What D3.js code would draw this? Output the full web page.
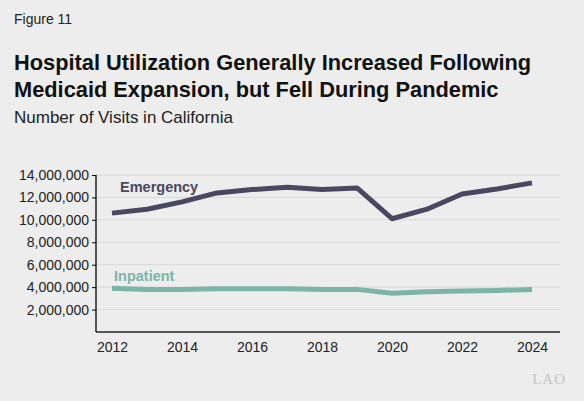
<!DOCTYPE html>
<html><head><meta charset="utf-8">
<script src="https://cdn.jsdelivr.net/npm/d3@7"></script>
<style>body{margin:0;background:#ecedec;font-family:"Liberation Sans",Arial,sans-serif}</style>
</head><body><div id="plot"></div>
<script>
var years = [2012,2013,2014,2015,2016,2017,2018,2019,2020,2021,2022,2023,2024];
var emergency = [10600000,10950000,11600000,12400000,12700000,12900000,12700000,12850000,10100000,10950000,12300000,12750000,13300000];
var inpatient = [3900000,3800000,3800000,3850000,3850000,3850000,3800000,3800000,3450000,3600000,3650000,3700000,3800000];
var yTicks = [2000000,4000000,6000000,8000000,10000000,12000000,14000000];
var xTicks = [2012,2014,2016,2018,2020,2022,2024];

const w = 584, h = 401;
const svg = d3.select("#plot").append("svg").attr("width", w).attr("height", h);

svg.append("text").attr("x", 14).attr("y", 24).attr("font-size", 14).attr("fill", "#222").text("Figure 11");
svg.append("text").attr("x", 14).attr("y", 70).attr("font-size", 21.8).attr("font-weight", "bold").attr("fill", "#111")
  .text("Hospital Utilization Generally Increased Following");
svg.append("text").attr("x", 14).attr("y", 97).attr("font-size", 21.8).attr("font-weight", "bold").attr("fill", "#111")
  .text("Medicaid Expansion, but Fell During Pandemic");
svg.append("text").attr("x", 14).attr("y", 123).attr("font-size", 17).attr("fill", "#222").text("Number of Visits in California");

const x = d3.scaleLinear().domain([2012, 2024]).range([112, 532]);
const y = d3.scaleLinear().domain([0, 14000000]).range([332, 175]);

svg.append("g").selectAll("line").data(yTicks).enter().append("line")
  .attr("x1", 96).attr("x2", 560).attr("y1", d => y(d)).attr("y2", d => y(d))
  .attr("stroke", "#d8d9d8").attr("stroke-width", 1);

const yAxis = svg.append("g").attr("transform", "translate(96,0)")
  .call(d3.axisLeft(y).tickValues(yTicks).tickSize(4).tickFormat(d3.format(",")));
const xAxis = svg.append("g").attr("transform", "translate(0,332)")
  .call(d3.axisBottom(x).tickValues(xTicks).tickSize(0).tickPadding(10).tickFormat(d => d));
xAxis.select(".domain").attr("d", "M96,0H560").attr("stroke", "#222").attr("stroke-width", 1.5);
yAxis.select(".domain").attr("d", "M0,175V332").attr("stroke", "#222").attr("stroke-width", 1.5);
svg.selectAll(".tick text").attr("font-size", 14).attr("fill", "#222").attr("font-family", "Liberation Sans, Arial, sans-serif");

const line = d3.line().x((d, i) => x(years[i])).y(d => y(d));
svg.append("path").datum(emergency).attr("d", line).attr("fill", "none").attr("stroke", "#4a4760").attr("stroke-width", 5).attr("stroke-linejoin", "round");
svg.append("path").datum(inpatient).attr("d", line).attr("fill", "none").attr("stroke", "#7cb4a8").attr("stroke-width", 5).attr("stroke-linejoin", "round");

svg.append("text").attr("x", 120).attr("y", 192).attr("font-size", 14.5).attr("font-weight", "bold").attr("fill", "#4a4760").text("Emergency");
svg.append("text").attr("x", 114).attr("y", 281).attr("font-size", 14.5).attr("font-weight", "bold").attr("fill", "#7cb4a8").text("Inpatient");

svg.append("text").attr("x", 566).attr("y", 384).attr("text-anchor", "end").attr("font-size", 15)
  .attr("font-family", "Liberation Serif, serif").attr("fill", "#c4c5c4").attr("letter-spacing", 1).text("LAO");
</script></body></html>
